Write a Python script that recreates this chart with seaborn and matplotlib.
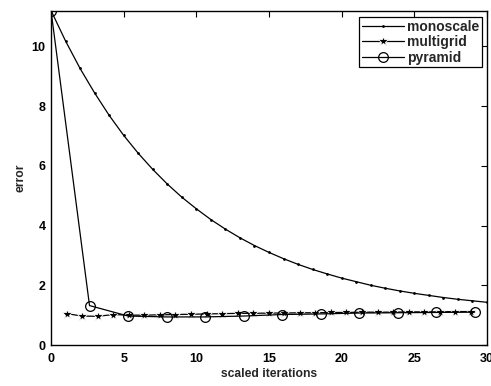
import matplotlib
matplotlib.use("Agg")
import matplotlib.pyplot as plt
import seaborn as sns
import numpy as np

# ---- data ----
mono_x = list(range(0, 31))
mono_y = [11.2, 10.18, 9.26, 8.44, 7.69, 7.02, 6.42, 5.88, 5.39, 4.95, 4.56,
          4.20, 3.88, 3.59, 3.33, 3.10, 2.89, 2.70, 2.53, 2.38, 2.24,
          2.12, 2.00, 1.90, 1.81, 1.73, 1.66, 1.59, 1.53, 1.48, 1.43]

multi_x = [1.07, 2.14, 3.21, 4.28, 5.35, 6.42, 7.49, 8.56, 9.63, 10.7,
           11.77, 12.84, 13.91, 14.98, 16.05, 17.12, 18.19, 19.26, 20.33, 21.4,
           22.47, 23.54, 24.61, 25.68, 26.75, 27.82, 28.89]
multi_y = [1.05, 0.97, 0.96, 1.02, 1.0, 1.0, 1.01, 1.02, 1.03, 1.04,
           1.05, 1.06, 1.06, 1.07, 1.07, 1.08, 1.08, 1.09, 1.09, 1.10,
           1.10, 1.10, 1.11, 1.11, 1.11, 1.12, 1.12]

pyr_x = [0.0, 2.65, 5.3, 7.95, 10.6, 13.25, 15.9, 18.55, 21.2, 23.85, 26.5, 29.15]
pyr_y = [11.2, 1.32, 0.97, 0.94, 0.94, 0.97, 1.02, 1.04, 1.07, 1.08, 1.09, 1.10]

x_ticks = [0, 5, 10, 15, 20, 25, 30]
y_ticks = [0, 2, 4, 6, 8, 10]

sns.set_style("white")
plt.rcParams['font.family'] = ['Liberation Sans', 'DejaVu Sans']

fig = plt.figure(figsize=(4.91, 3.86), dpi=100)
ax = fig.add_axes([51/491, 1 - 345/386, (487 - 51)/491, (345 - 10.5)/386])

sns.lineplot(x=mono_x, y=mono_y, ax=ax, color='black', linewidth=0.9,
             marker='o', markersize=2, markeredgewidth=0, label='monoscale')
sns.lineplot(x=multi_x, y=multi_y, ax=ax, color='black', linewidth=0.9,
             marker='*', markersize=7.5, markeredgewidth=0.6, label='multigrid')
sns.lineplot(x=pyr_x, y=pyr_y, ax=ax, color='black', linewidth=0.9,
             marker='o', markersize=7, markerfacecolor='none',
             markeredgecolor='black', markeredgewidth=0.9, label='pyramid')

ax.set_xlim(0, 30)
ax.set_ylim(0, 11.2)
ax.set_xticks(x_ticks)
ax.set_yticks(y_ticks)
ax.tick_params(direction='in', top=True, right=True, length=4, width=0.8,
               labelsize=9, colors='black')
ax.tick_params(axis='x', pad=6)
ax.tick_params(axis='y', pad=4)
for lab in ax.get_xticklabels() + ax.get_yticklabels():
    lab.set_fontweight('bold')
for s in ax.spines.values():
    s.set_color('black')
    s.set_linewidth(1.0)
ax.set_xlabel('scaled iterations', fontsize=8.7, fontweight='bold', labelpad=2)
ax.set_ylabel('error', fontsize=8.7, fontweight='bold')
ax.yaxis.set_label_coords(-0.056, 0.5)

leg = ax.legend(loc='upper right', bbox_to_anchor=(482/491, 1 - 17/386),
                bbox_transform=fig.transFigure, frameon=True,
                fancybox=False, edgecolor='black', framealpha=1,
                borderpad=0.2, labelspacing=0.1, handlelength=3.0,
                handletextpad=0.25, borderaxespad=0,
                prop={'weight': 'bold', 'size': 10})
leg.get_frame().set_linewidth(0.9)

fig.savefig('out.png', dpi=100)
